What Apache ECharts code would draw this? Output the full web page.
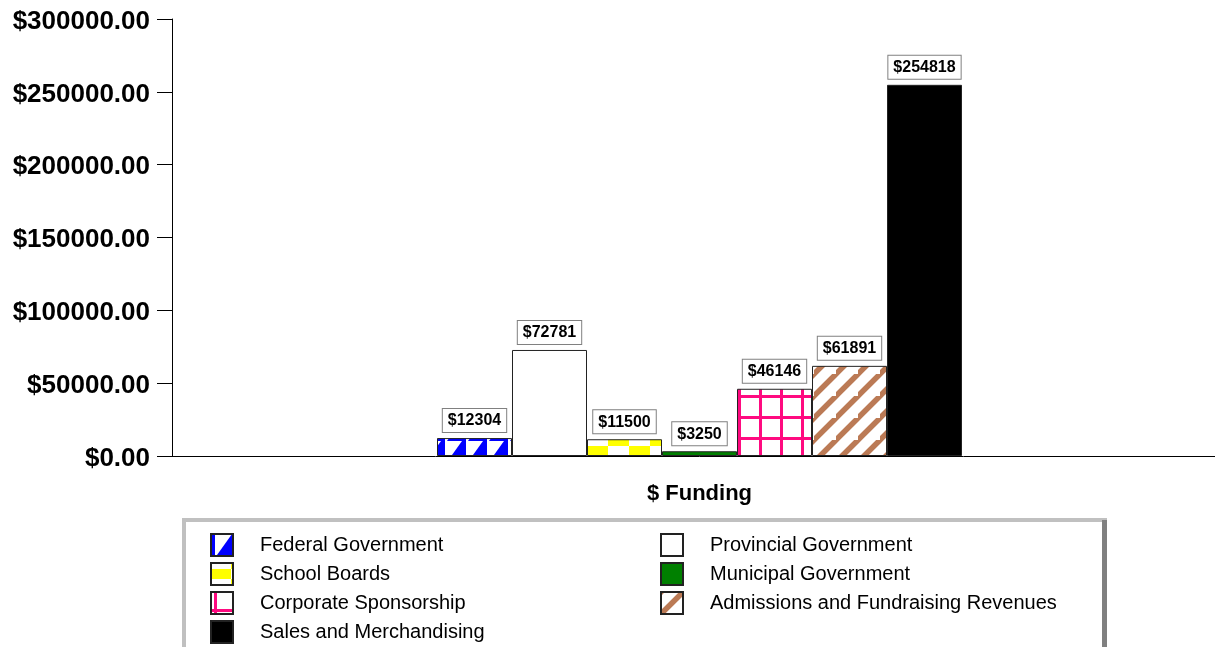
<!DOCTYPE html>
<html>
<head>
<meta charset="utf-8">
<script src="https://cdn.jsdelivr.net/npm/echarts@6/dist/echarts.min.js"></script>
<style>
html,body{margin:0;padding:0;background:#fff;overflow:hidden;}
#chart{width:1227px;height:647px;}
</style>
</head>
<body>
<div id="chart"></div>
<script>
var categories = ['$ Funding'];
var seriesNames = ['Federal Government', 'Provincial Government', 'School Boards', 'Municipal Government', 'Corporate Sponsorship', 'Admissions and Fundraising Revenues', 'Sales and Merchandising'];
var seriesValues = [12304, 72781, 11500, 3250, 46146, 61891, 254818];
var yTicks = [0, 50000, 100000, 150000, 200000, 250000, 300000];
var legendCol1 = ['Federal Government', 'School Boards', 'Corporate Sponsorship'];
var legendCol2 = ['Provincial Government', 'Municipal Government', 'Admissions and Fundraising Revenues'];
var legendCol1b = ['Sales and Merchandising'];

function tile(w, h, draw) {
  var c = document.createElement('canvas');
  c.width = w; c.height = h;
  var ctx = c.getContext('2d');
  ctx.fillStyle = '#fff'; ctx.fillRect(0, 0, w, h);
  draw(ctx, w, h);
  return { image: c, repeat: 'repeat' };
}
var fedPattern = tile(21, 21, function (ctx) {
  ctx.fillStyle = '#0000ff';
  ctx.beginPath();
  ctx.moveTo(21, 0); ctx.lineTo(21, 21); ctx.lineTo(6, 21); ctx.closePath(); ctx.fill();
  ctx.fillRect(0, 0, 4, 21);
});
var schoolPattern = tile(42, 20, function (ctx) {
  ctx.fillStyle = '#ffff00';
  ctx.fillRect(0, 6, 20, 10);
  ctx.fillRect(41, 6, 1, 10);
  ctx.fillRect(20, 16, 21, 4);
  ctx.fillRect(20, 0, 21, 6);
});
var corpPattern = tile(21, 21, function (ctx) {
  ctx.fillStyle = '#ff0a80';
  ctx.fillRect(3, 0, 3, 21);
  ctx.fillRect(0, 17, 21, 3);
});
var admPattern = tile(22, 22, function (ctx) {
  ctx.strokeStyle = '#bb7a55';
  ctx.lineWidth = 5.5;
  ctx.beginPath();
  ctx.moveTo(-4, 26); ctx.lineTo(26, -4);
  ctx.moveTo(-26, 26); ctx.lineTo(4, -4);
  ctx.moveTo(18, 48); ctx.lineTo(48, 18);
  ctx.stroke();
});
var fills = [fedPattern, '#ffffff', schoolPattern, '#008000', corpPattern, admPattern, '#000000'];

var series = seriesNames.map(function (name, i) {
  return {
    name: name,
    type: 'bar',
    barWidth: 75,
    barGap: '0%',
    data: [seriesValues[i]],
    itemStyle: { color: fills[i], borderColor: '#222', borderWidth: 1 },
    label: {
      show: true,
      position: 'top',
      distance: 6,
      formatter: function (p) { return '$' + p.value; },
      color: '#000',
      fontFamily: 'Liberation Sans, Arial, sans-serif',
      fontWeight: 'bold',
      fontSize: 16,
      backgroundColor: '#fff',
      borderColor: '#808080',
      borderWidth: 1,
      padding: [4, 5, 3, 5]
    }
  };
});

var legendBase = {
  orient: 'vertical',
  padding: 0,
  itemWidth: 22,
  itemHeight: 22,
  itemGap: 5,
  icon: 'rect',
  selectedMode: false,
  textStyle: {
    fontFamily: 'Liberation Sans, Arial, sans-serif',
    fontSize: 20,
    lineHeight: 22,
    color: '#000',
    padding: [0, 0, 0, 22]
  }
};

var chart = echarts.init(document.getElementById('chart'), null, { renderer: 'canvas' });
chart.setOption({
  animation: false,
  backgroundColor: '#fff',
  grid: { left: 172, top: 19, bottom: 191, right: 0, containLabel: false },
  xAxis: {
    type: 'category',
    data: categories,
    axisLine: { lineStyle: { color: '#000', width: 1 } },
    axisTick: { alignWithLabel: true, length: 11, lineStyle: { color: '#000' } },
    axisLabel: {
      margin: 27,
      color: '#000',
      fontFamily: 'Liberation Sans, Arial, sans-serif',
      fontWeight: 'bold',
      fontSize: 22
    }
  },
  yAxis: {
    type: 'value',
    min: yTicks[0],
    max: yTicks[yTicks.length - 1],
    interval: yTicks[1] - yTicks[0],
    splitLine: { show: false },
    axisLine: { show: true, lineStyle: { color: '#000', width: 1 } },
    axisTick: { show: true, length: 15, lineStyle: { color: '#000' } },
    axisLabel: {
      margin: 22,
      color: '#000',
      fontFamily: 'Liberation Sans, Arial, sans-serif',
      fontWeight: 'bold',
      fontSize: 26,
      formatter: function (v) { return '{a|$' + v.toFixed(2) + '}'; },
      rich: {
        a: {
          fontFamily: 'Liberation Sans, Arial, sans-serif',
          fontWeight: 'bold',
          fontSize: 26,
          color: '#000',
          padding: [5, 0, 0, 0]
        }
      }
    }
  },
  legend: [
    Object.assign({}, legendBase, { left: 210, top: 533, data: legendCol1 }),
    Object.assign({}, legendBase, { left: 660, top: 533, data: legendCol2 }),
    Object.assign({}, legendBase, { left: 210, top: 620, data: legendCol1b })
  ],
  graphic: [
    { type: 'rect', z: -1, shape: { x: 182, y: 518, width: 925, height: 4 }, style: { fill: '#c0c0c0' } },
    { type: 'rect', z: -1, shape: { x: 182, y: 518, width: 4, height: 140 }, style: { fill: '#c0c0c0' } },
    { type: 'rect', z: -1, shape: { x: 1102, y: 520, width: 5, height: 140 }, style: { fill: '#808080' } }
  ],
  series: series
});
</script>
</body>
</html>
